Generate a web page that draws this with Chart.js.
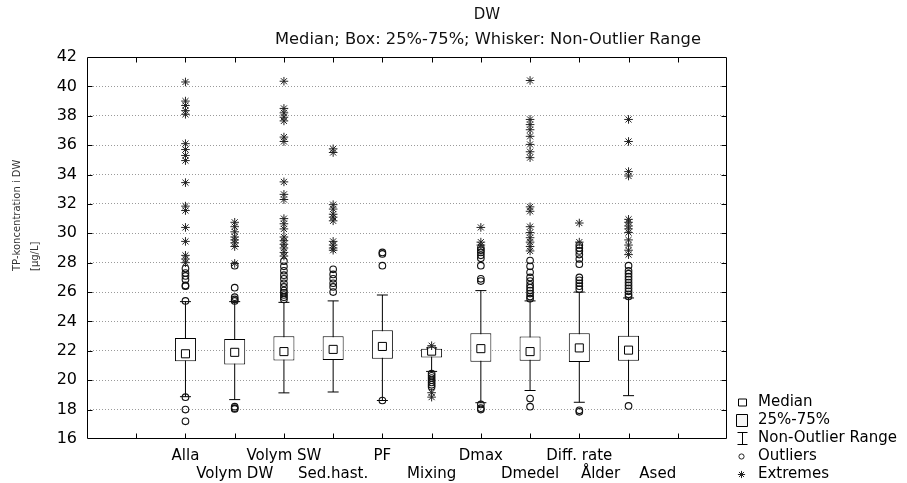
<!DOCTYPE html>
<html>
<head>
<meta charset="utf-8">
<script src="https://cdn.jsdelivr.net/npm/chart.js@4.4.1/dist/chart.umd.min.js"></script>
<style>
  html, body { margin: 0; padding: 0; background: #ffffff; }
  #wrap { width: 907px; height: 483px; }
</style>
</head>
<body>
<div id="wrap"><canvas id="c" width="907" height="483"></canvas></div>
<script>
// Box plot of TP concentration in DW for each scenario
const categories = ['Alla', 'Volym DW', 'Volym SW', 'Sed.hast.', 'PF', 'Mixing', 'Dmax', 'Dmedel', 'Diff. rate', 'Ålder    Ased'];
const slots = [2, 3, 4, 5, 6, 7, 8, 9, 10, 11];

const medians      = [21.80, 21.90, 21.95, 22.10, 22.30, 21.98, 22.15, 21.95, 22.20, 22.05];
const q1           = [21.30, 21.07, 21.35, 21.37, 21.46, 21.55, 21.25, 21.33, 21.24, 21.33];
const q3           = [22.87, 22.80, 23.00, 23.00, 23.40, 22.15, 23.20, 22.97, 23.20, 23.03];
const whiskerLow   = [18.88, 18.68, 19.14, 19.20, 18.62, 20.60, 18.47, 19.30, 18.50, 18.95];
const whiskerHigh  = [25.35, 25.35, 25.30, 25.40, 25.80, 22.20, 26.10, 25.40, 26.00, 25.60];

const outliers = [
  [27.60, 27.30, 27.10, 26.85, 26.45, 26.40, 25.40, 18.85, 18.00, 17.20],
  [27.80, 26.30, 25.65, 25.50, 25.40, 18.20, 18.10, 18.05],
  [28.10, 27.75, 27.45, 27.15, 26.90, 26.60, 26.35, 26.10, 25.95, 25.80, 25.65, 25.50],
  [27.55, 27.20, 26.90, 26.60, 26.35, 26.00],
  [28.70, 28.60, 27.80, 18.62],
  [20.45, 20.30, 20.15, 20.00, 19.85, 19.70, 19.55],
  [29.00, 28.85, 28.70, 28.50, 28.30, 27.80, 26.90, 26.75, 18.35, 18.10, 18.00],
  [28.15, 27.75, 27.35, 27.00, 26.75, 26.50, 26.30, 26.10, 25.90, 25.70, 25.55, 18.75, 18.20],
  [29.20, 29.00, 28.80, 28.55, 28.25, 27.90, 27.00, 26.80, 26.60, 26.40, 26.20, 17.95, 17.85],
  [27.80, 27.45, 27.25, 27.05, 26.85, 26.65, 26.45, 26.25, 26.05, 25.85, 25.70, 18.25]
];

const extremes = [
  [40.30, 39.00, 38.70, 38.35, 38.10, 36.10, 35.70, 35.30, 34.95, 33.45, 31.85, 31.55, 30.40, 29.45, 28.50, 28.25, 28.00],
  [30.75, 30.45, 30.10, 29.75, 29.55, 29.35, 29.10, 27.95],
  [40.35, 38.50, 38.20, 37.90, 37.65, 36.55, 36.25, 33.50, 32.65, 32.30, 31.00, 30.65, 30.30, 29.75, 29.50, 29.25, 29.00, 28.70, 28.45],
  [35.75, 35.50, 31.95, 31.65, 31.30, 31.10, 30.85, 29.45, 29.20, 29.00, 28.85],
  [],
  [22.35, 19.15, 18.85],
  [30.40, 29.40, 29.20],
  [40.40, 37.75, 37.40, 37.05, 36.60, 36.05, 35.55, 35.15, 31.80, 31.50, 30.45, 30.05, 29.70, 29.40, 29.10, 28.80],
  [30.70, 29.40],
  [37.75, 36.25, 34.20, 33.90, 30.95, 30.75, 30.50, 30.30, 30.05, 29.55, 29.20, 28.85, 28.55]
];

const yTicks = [16, 18, 20, 22, 24, 26, 28, 30, 32, 34, 36, 38, 40, 42];
const legendItems = ['Median', '25%-75%', 'Non-Outlier Range', 'Outliers', 'Extremes'];

const FONT = '"DejaVu Sans", "Liberation Sans", sans-serif';

// dataset builders
const boxData = slots.map((s, i) => ({ x: s, y: [q1[i], q3[i]] }));
const whiskerData = [];
slots.forEach((s, i) => {
  whiskerData.push({ x: s, y: whiskerLow[i] });
  whiskerData.push({ x: s, y: whiskerHigh[i] });
  whiskerData.push({ x: s, y: null });
});
const capData = [];
slots.forEach((s, i) => {
  capData.push({ x: s, y: whiskerLow[i] });
  capData.push({ x: s, y: whiskerHigh[i] });
});
const medianData = slots.map((s, i) => ({ x: s, y: medians[i] }));
const outlierData = [];
outliers.forEach((arr, i) => arr.forEach(v => outlierData.push({ x: slots[i], y: v })));
const extremeData = [];
extremes.forEach((arr, i) => arr.forEach(v => extremeData.push({ x: slots[i], y: v })));

// frame with inward tick marks on all four sides
const framePlugin = {
  id: 'frame',
  afterDraw(chart) {
    const { ctx, chartArea: a, scales } = chart;
    const L = Math.round(a.left) + 0.5, R = Math.round(a.right) - 0.5;
    const T = Math.round(a.top) + 0.5, B = Math.round(a.bottom) - 0.5;
    ctx.save();
    ctx.strokeStyle = '#000';
    ctx.lineWidth = 1;
    ctx.beginPath();
    ctx.rect(L, T, R - L, B - T);
    for (let k = 1; k <= 12; k++) {
      const px = Math.round(scales.x.getPixelForValue(k)) + 0.5;
      ctx.moveTo(px, T); ctx.lineTo(px, T + 5);
      ctx.moveTo(px, B); ctx.lineTo(px, B - 5);
    }
    yTicks.slice(1, -1).forEach(v => {
      const py = Math.round(scales.y.getPixelForValue(v)) + 0.5;
      ctx.moveTo(L, py); ctx.lineTo(L + 5, py);
      ctx.moveTo(R, py); ctx.lineTo(R - 5, py);
    });
    ctx.stroke();
    ctx.restore();
  }
};

// titles, axis title and legend
const textPlugin = {
  id: 'texts',
  afterDraw(chart) {
    const ctx = chart.ctx;
    ctx.save();
    ctx.fillStyle = '#111';
    ctx.textAlign = 'center';
    ctx.textBaseline = 'middle';
    ctx.font = '15px ' + FONT;
    ctx.fillText('DW', 487, 15);
    ctx.font = '16.3px ' + FONT;
    ctx.fillText('Median; Box: 25%-75%; Whisker: Non-Outlier Range', 488, 40);

    // y axis title
    ctx.save();
    ctx.translate(17, 271);
    ctx.rotate(-Math.PI / 2);
    ctx.textAlign = 'left';
    ctx.fillStyle = '#333';
    ctx.font = '10px ' + FONT;
    ctx.fillText('TP-koncentration i DW', 0, 0);
    ctx.fillText('[µg/L]', 0, 18);
    ctx.restore();

    // legend
    const ys = [402.5, 420.5, 438.5, 456.5, 474.5];
    const ix = 742.5;
    ctx.strokeStyle = '#000';
    ctx.lineWidth = 1;
    // median symbol
    ctx.fillStyle = '#fff';
    ctx.beginPath(); ctx.rect(ix - 4, ys[0] - 3.5, 8, 7); ctx.fill(); ctx.stroke();
    // box symbol
    ctx.fillStyle = '#f6f6f6';
    ctx.beginPath(); ctx.rect(ix - 6, ys[1] - 6, 11, 12); ctx.fill(); ctx.stroke();
    // whisker symbol
    ctx.beginPath();
    ctx.moveTo(ix - 5, ys[2] - 6); ctx.lineTo(ix + 5, ys[2] - 6);
    ctx.moveTo(ix, ys[2] - 6); ctx.lineTo(ix, ys[2] + 6);
    ctx.moveTo(ix - 5, ys[2] + 6); ctx.lineTo(ix + 5, ys[2] + 6);
    ctx.stroke();
    // outlier symbol
    ctx.strokeStyle = '#222';
    ctx.beginPath(); ctx.arc(ix - 1, ys[3], 2.6, 0, Math.PI * 2); ctx.stroke();
    // extreme symbol
    ctx.beginPath();
    const r = 3.6;
    for (let j = 0; j < 4; j++) {
      const ang = j * Math.PI / 4;
      ctx.moveTo(ix - 1 - r * Math.cos(ang), ys[4] - r * Math.sin(ang));
      ctx.lineTo(ix - 1 + r * Math.cos(ang), ys[4] + r * Math.sin(ang));
    }
    ctx.stroke();

    ctx.fillStyle = '#000';
    ctx.textAlign = 'left';
    ctx.font = '15px ' + FONT;
    legendItems.forEach((t, i) => ctx.fillText(t, 758, ys[i]));
    ctx.restore();
  }
};

new Chart(document.getElementById('c'), {
  type: 'scatter',
  data: {
    datasets: [
      {
        type: 'scatter', label: 'Extremes', data: extremeData, order: 0,
        pointStyle: 'star', pointRadius: 4.3, borderColor: '#222', borderWidth: 1,
        backgroundColor: 'rgba(0,0,0,0)'
      },
      {
        type: 'scatter', label: 'Outliers', data: outlierData, order: 1,
        pointStyle: 'circle', pointRadius: 3.3, borderColor: '#111', borderWidth: 1.1,
        backgroundColor: 'rgba(0,0,0,0)'
      },
      {
        type: 'scatter', label: 'Median', data: medianData, order: 2,
        pointStyle: 'rect', pointRadius: 5.7, borderColor: '#000', borderWidth: 1,
        backgroundColor: '#fff'
      },
      {
        type: 'bar', label: '25%-75%', data: boxData, order: 3,
        barThickness: 21, grouped: false, borderSkipped: false, inflateAmount: 0,
        backgroundColor: '#fff', borderColor: '#000', borderWidth: 1
      },
      {
        type: 'scatter', label: 'caps', data: capData, order: 4,
        pointStyle: 'line', pointRadius: 5.5, borderColor: '#000', borderWidth: 1
      },
      {
        type: 'line', label: 'Non-Outlier Range', data: whiskerData, order: 5,
        borderColor: '#000', borderWidth: 1, pointRadius: 0, spanGaps: false, fill: false
      }
    ]
  },
  options: {
    responsive: false,
    animation: false,
    events: [],
    layout: { padding: { left: 0, top: 57, right: 180, bottom: 0 } },
    plugins: {
      legend: { display: false },
      tooltip: { enabled: false },
      title: { display: false }
    },
    scales: {
      x: {
        type: 'linear', min: 0, max: 13, offset: false,
        grid: { display: false, drawTicks: false },
        border: { display: false },
        ticks: {
          stepSize: 1, autoSkip: false, maxRotation: 0, minRotation: 0, padding: 8,
          color: '#000', font: { family: FONT, size: 15 },
          callback: (v) => {
            const i = slots.indexOf(v);
            if (i < 0) return '';
            return i % 2 === 0 ? [categories[i], ''] : ['', categories[i]];
          }
        },
        afterFit: (s) => { s.height = 44; }
      },
      y: {
        type: 'linear', min: 16, max: 42,
        grid: {
          drawTicks: false, lineWidth: 1,
          color: (c) => (c.tick && (c.tick.value === 16 || c.tick.value === 42)) ? 'rgba(0,0,0,0)' : '#9a9a9a'
        },
        border: { display: false, dash: [1, 2] },
        ticks: {
          stepSize: 2, padding: 10, color: '#000', font: { family: FONT, size: 16 }
        },
        afterFit: (s) => { s.width = 87; }
      }
    }
  },
  plugins: [framePlugin, textPlugin]
});
</script>
</body>
</html>
